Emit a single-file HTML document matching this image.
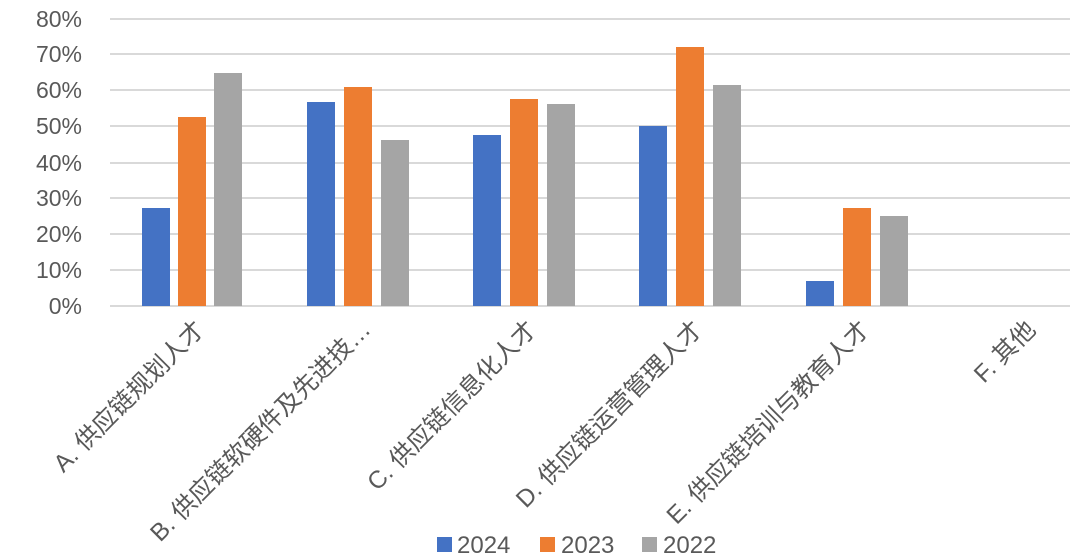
<!DOCTYPE html>
<html><head><meta charset="utf-8"><style>
html,body{margin:0;padding:0;background:#fff;}
svg{display:block;}
text{font-family:"Liberation Sans","Noto Sans CJK SC",sans-serif;fill:#595959;}
</style></head><body>
<svg width="1080" height="559" viewBox="0 0 1080 559" xmlns="http://www.w3.org/2000/svg">
<g stroke="#d9d9d9" stroke-width="2">
<line x1="110" y1="19" x2="1070" y2="19"/>
<line x1="110" y1="54" x2="1070" y2="54"/>
<line x1="110" y1="90" x2="1070" y2="90"/>
<line x1="110" y1="126" x2="1070" y2="126"/>
<line x1="110" y1="163" x2="1070" y2="163"/>
<line x1="110" y1="198" x2="1070" y2="198"/>
<line x1="110" y1="234" x2="1070" y2="234"/>
<line x1="110" y1="270" x2="1070" y2="270"/>
<line x1="110" y1="306" x2="1070" y2="306"/>
</g>
<g font-size="23" text-anchor="end">
<text x="82" y="27">80%</text>
<text x="82" y="62">70%</text>
<text x="82" y="98">60%</text>
<text x="82" y="134">50%</text>
<text x="82" y="171">40%</text>
<text x="82" y="206">30%</text>
<text x="82" y="242">20%</text>
<text x="82" y="278">10%</text>
<text x="82" y="314">0%</text>
</g>
<g>
<rect x="142" y="208" width="28" height="98" fill="#4472c4"/>
<rect x="178" y="117" width="28" height="189" fill="#ed7d31"/>
<rect x="214" y="73" width="28" height="233" fill="#a5a5a5"/>
<rect x="307" y="102" width="28" height="204" fill="#4472c4"/>
<rect x="344" y="87" width="28" height="219" fill="#ed7d31"/>
<rect x="381" y="140" width="28" height="166" fill="#a5a5a5"/>
<rect x="473" y="135" width="28" height="171" fill="#4472c4"/>
<rect x="510" y="99" width="28" height="207" fill="#ed7d31"/>
<rect x="547" y="104" width="28" height="202" fill="#a5a5a5"/>
<rect x="639" y="126" width="28" height="180" fill="#4472c4"/>
<rect x="676" y="47" width="28" height="259" fill="#ed7d31"/>
<rect x="713" y="85" width="28" height="221" fill="#a5a5a5"/>
<rect x="806" y="281" width="28" height="25" fill="#4472c4"/>
<rect x="843" y="208" width="28" height="98" fill="#ed7d31"/>
<rect x="880" y="216" width="28" height="90" fill="#a5a5a5"/>
</g>
<g font-size="24.5" text-anchor="end">
<text transform="translate(206,331) rotate(-45)">A. 供应链规划人才</text>
<text transform="translate(372,331) rotate(-45)">B. 供应链软硬件及先进技…</text>
<text transform="translate(538,331) rotate(-45)">C. 供应链信息化人才</text>
<text transform="translate(704,331) rotate(-45)">D. 供应链运营管理人才</text>
<text transform="translate(871,331) rotate(-45)">E. 供应链培训与教育人才</text>
<text transform="translate(1037,331) rotate(-45)">F. 其他</text>
</g>
<g font-size="24">
<rect x="437" y="537" width="15" height="15" fill="#4472c4"/>
<text x="457" y="553">2024</text>
<rect x="540" y="537" width="15" height="15" fill="#ed7d31"/>
<text x="561" y="553">2023</text>
<rect x="642" y="537" width="15" height="15" fill="#a5a5a5"/>
<text x="663" y="553">2022</text>
</g>
</svg>
</body></html>
